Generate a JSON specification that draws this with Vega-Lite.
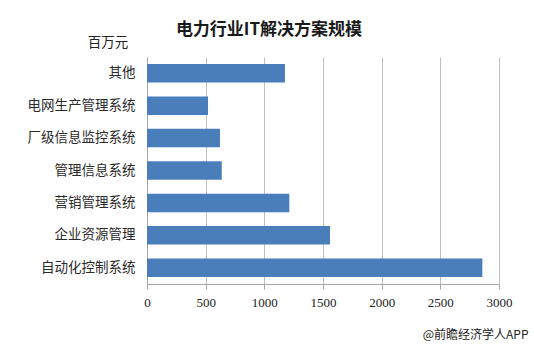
{
  "$schema": "https://vega.github.io/schema/vega-lite/v6.json",
  "width": 352,
  "height": 227,
  "autosize": {"type": "none"},
  "padding": {"left": 147, "top": 57, "right": 35, "bottom": 61},
  "background": "#ffffff",
  "title": {
    "text": "电力行业IT解决方案规模",
    "font": "Noto Sans CJK SC",
    "fontWeight": "bold",
    "fontSize": 17,
    "color": "#1a1a1a",
    "anchor": "middle",
    "frame": "group",
    "dx": -54,
    "dy": 7,
    "offset": 4
  },
  "data": {
    "values": [
      {"category": "其他", "value": 1176},
      {"category": "电网生产管理系统", "value": 520},
      {"category": "厂级信息监控系统", "value": 622},
      {"category": "管理信息系统", "value": 637},
      {"category": "营销管理系统", "value": 1213},
      {"category": "企业资源管理", "value": 1560},
      {"category": "自动化控制系统", "value": 2858}
    ]
  },
  "mark": {"type": "bar", "color": "#4a7ebb"},
  "encoding": {
    "y": {
      "field": "category",
      "type": "nominal",
      "sort": null,
      "scale": {"paddingInner": 0.43, "paddingOuter": 0.215},
      "axis": {
        "title": "百万元",
        "titleAngle": 0,
        "titleX": -39.5,
        "titleY": -14.5,
        "titleAlign": "center",
        "titleBaseline": "middle",
        "titleFont": "Noto Sans CJK SC",
        "titleFontSize": 13.5,
        "titleFontWeight": "normal",
        "titleColor": "#222222",
        "labelFont": "Noto Sans CJK SC",
        "labelFontSize": 13.5,
        "labelColor": "#2a2a2a",
        "labelPadding": 12,
        "ticks": false,
        "domainColor": "#a6a6a6",
        "grid": false
      }
    },
    "x": {
      "field": "value",
      "type": "quantitative",
      "scale": {"domain": [0, 3000], "nice": false},
      "axis": {
        "values": [0, 500, 1000, 1500, 2000, 2500, 3000],
        "format": "d",
        "title": "@前瞻经济学人APP",
        "titleX": 381,
        "titleY": 50,
        "titleAlign": "right",
        "titleAnchor": null,
        "titleBaseline": "middle",
        "titleFont": "Noto Sans CJK SC",
        "titleFontSize": 12,
        "titleFontWeight": "normal",
        "titleColor": "#222222",
        "labelFont": "Liberation Serif",
        "labelFontSize": 13,
        "labelColor": "#222222",
        "labelPadding": 7,
        "tickSize": 5,
        "tickColor": "#a6a6a6",
        "domainColor": "#a6a6a6",
        "grid": true,
        "gridColor": "#bfbfbf",
        "labelFlush": false
      }
    }
  },
  "config": {"view": {"stroke": null}}
}
